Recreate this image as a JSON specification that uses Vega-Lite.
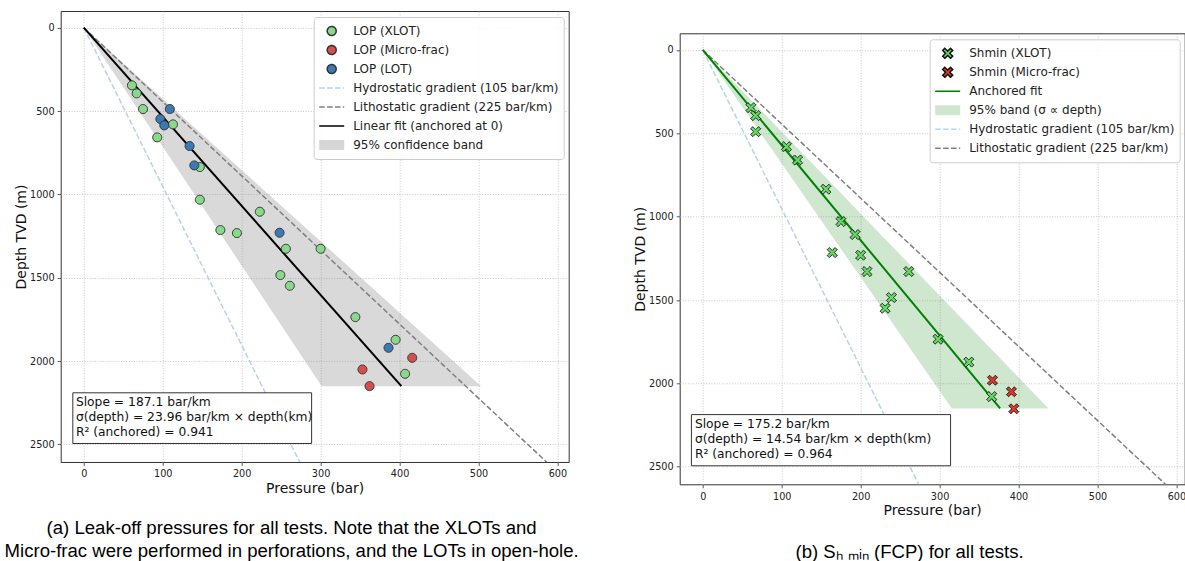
{
  "$schema": "https://vega.github.io/schema/vega-lite/v6.json",
  "background": "white",
  "padding": {"left": 3.7, "top": 10, "right": 0, "bottom": 0},
  "spacing": 53,
  "datasets": {
    "lop": [
      {"p": 61, "d": 346, "series": "LOP (XLOT)"},
      {"p": 67, "d": 394, "series": "LOP (XLOT)"},
      {"p": 75, "d": 488, "series": "LOP (XLOT)"},
      {"p": 113, "d": 580, "series": "LOP (XLOT)"},
      {"p": 93, "d": 658, "series": "LOP (XLOT)"},
      {"p": 147, "d": 836, "series": "LOP (XLOT)"},
      {"p": 147, "d": 1032, "series": "LOP (XLOT)"},
      {"p": 223, "d": 1104, "series": "LOP (XLOT)"},
      {"p": 173, "d": 1214, "series": "LOP (XLOT)"},
      {"p": 194, "d": 1232, "series": "LOP (XLOT)"},
      {"p": 256, "d": 1326, "series": "LOP (XLOT)"},
      {"p": 300, "d": 1326, "series": "LOP (XLOT)"},
      {"p": 249, "d": 1484, "series": "LOP (XLOT)"},
      {"p": 261, "d": 1548, "series": "LOP (XLOT)"},
      {"p": 344, "d": 1736, "series": "LOP (XLOT)"},
      {"p": 395, "d": 1872, "series": "LOP (XLOT)"},
      {"p": 407, "d": 2076, "series": "LOP (XLOT)"},
      {"p": 416, "d": 1980, "series": "LOP (Micro-frac)"},
      {"p": 353, "d": 2050, "series": "LOP (Micro-frac)"},
      {"p": 362, "d": 2150, "series": "LOP (Micro-frac)"},
      {"p": 109, "d": 488, "series": "LOP (LOT)"},
      {"p": 97, "d": 548, "series": "LOP (LOT)"},
      {"p": 102, "d": 586, "series": "LOP (LOT)"},
      {"p": 134, "d": 710, "series": "LOP (LOT)"},
      {"p": 140, "d": 826, "series": "LOP (LOT)"},
      {"p": 248, "d": 1230, "series": "LOP (LOT)"},
      {"p": 386, "d": 1920, "series": "LOP (LOT)"}
    ],
    "shmin": [
      {"p": 61, "d": 346, "series": "Shmin (XLOT)"},
      {"p": 67, "d": 394, "series": "Shmin (XLOT)"},
      {"p": 67, "d": 490, "series": "Shmin (XLOT)"},
      {"p": 106, "d": 580, "series": "Shmin (XLOT)"},
      {"p": 120, "d": 660, "series": "Shmin (XLOT)"},
      {"p": 156, "d": 835, "series": "Shmin (XLOT)"},
      {"p": 175, "d": 1029, "series": "Shmin (XLOT)"},
      {"p": 193, "d": 1107, "series": "Shmin (XLOT)"},
      {"p": 164, "d": 1215, "series": "Shmin (XLOT)"},
      {"p": 200, "d": 1231, "series": "Shmin (XLOT)"},
      {"p": 208, "d": 1329, "series": "Shmin (XLOT)"},
      {"p": 261, "d": 1329, "series": "Shmin (XLOT)"},
      {"p": 239, "d": 1485, "series": "Shmin (XLOT)"},
      {"p": 231, "d": 1549, "series": "Shmin (XLOT)"},
      {"p": 298, "d": 1735, "series": "Shmin (XLOT)"},
      {"p": 337, "d": 1872, "series": "Shmin (XLOT)"},
      {"p": 366, "d": 2079, "series": "Shmin (XLOT)"},
      {"p": 367, "d": 1981, "series": "Shmin (Micro-frac)"},
      {"p": 391, "d": 2050, "series": "Shmin (Micro-frac)"},
      {"p": 394, "d": 2152, "series": "Shmin (Micro-frac)"}
    ],
    "bandA": [{"d": 0, "lo": 0, "hi": 0}, {"d": 2150, "lo": 301.3, "hi": 503.3}],
    "fitA": [{"d": 0, "p": 0}, {"d": 2150, "p": 402.3}],
    "bandB": [{"d": 0, "lo": 0, "hi": 0}, {"d": 2150, "lo": 315.4, "hi": 438.0}],
    "fitB": [{"d": 0, "p": 0}, {"d": 2150, "p": 376.7}],
    "hydro": [{"d": 0, "p": 0}, {"d": 2700, "p": 283.5}],
    "litho": [{"d": 0, "p": 0}, {"d": 2700, "p": 607.5}],
    "noteA": [{"note": ["Slope = 187.1 bar/km", "σ(depth) = 23.96 bar/km × depth(km)", "R² (anchored) = 0.941"]}],
    "noteB": [{"note": ["Slope = 175.2 bar/km", "σ(depth) = 14.54 bar/km × depth(km)", "R² (anchored) = 0.964"]}]
  },
  "resolve": {
    "scale": {"x": "independent", "y": "independent", "fill": "independent", "stroke": "independent", "shape": "independent", "strokeDash": "independent"},
    "legend": {"fill": "independent", "stroke": "independent", "shape": "independent", "strokeDash": "independent"}
  },
  "hconcat": [
    {
      "width": 508,
      "height": 451,
      "title": {
        "text": ["(a) Leak-off pressures for all tests. Note that the XLOTs and", "Micro-frac were performed in perforations, and the LOTs in open-hole."],
        "orient": "bottom", "frame": "bounds", "anchor": "middle", "offset": 23
      },
      "layer": [
        {
          "data": {"name": "bandA"},
          "mark": {"type": "area", "orient": "horizontal", "color": "gray", "opacity": 0.3},
          "encoding": {
            "y": {"field": "d", "type": "quantitative", "title": "Depth TVD (m)",
                  "scale": {"domain": [-100, 2605], "reverse": true, "nice": false, "zero": false},
                  "axis": {"values": [0, 500, 1000, 1500, 2000, 2500], "format": "d"}},
            "x": {"field": "lo", "type": "quantitative", "title": "Pressure (bar)",
                  "scale": {"domain": [-29.25, 614.25], "nice": false, "zero": false},
                  "axis": {"values": [0, 100, 200, 300, 400, 500, 600], "format": "d"}},
            "x2": {"field": "hi"}
          }
        },
        {
          "data": {"name": "hydro"},
          "mark": {"type": "line", "color": "#add8e6", "strokeWidth": 1.5, "strokeDash": [5.5, 2.4], "clip": true},
          "encoding": {"y": {"field": "d", "type": "quantitative", "title": "Depth TVD (m)"}, "x": {"field": "p", "type": "quantitative", "title": "Pressure (bar)"}}
        },
        {
          "data": {"name": "litho"},
          "mark": {"type": "line", "color": "#808080", "strokeWidth": 1.5, "strokeDash": [5.5, 2.4], "clip": true},
          "encoding": {"y": {"field": "d", "type": "quantitative", "title": "Depth TVD (m)"}, "x": {"field": "p", "type": "quantitative", "title": "Pressure (bar)"}}
        },
        {
          "data": {"name": "fitA"},
          "mark": {"type": "line", "color": "#000000", "strokeWidth": 2},
          "encoding": {"y": {"field": "d", "type": "quantitative", "title": "Depth TVD (m)"}, "x": {"field": "p", "type": "quantitative", "title": "Pressure (bar)"}}
        },
        {
          "data": {"name": "lop"},
          "mark": {"type": "point", "filled": true, "size": 625, "strokeWidth": 1, "opacity": 1},
          "encoding": {
            "y": {"field": "d", "type": "quantitative", "title": "Depth TVD (m)"},
            "x": {"field": "p", "type": "quantitative", "title": "Pressure (bar)"},
            "fill": {
              "field": "series", "type": "nominal",
              "scale": {"domain": ["LOP (XLOT)", "LOP (Micro-frac)", "LOP (LOT)", "Hydrostatic gradient (105 bar/km)", "Lithostatic gradient (225 bar/km)", "Linear fit (anchored at 0)", "95% confidence band"],
                        "range": ["#8ad88a", "#d45050", "#3a7bb6", "transparent", "transparent", "transparent", "#d6d6d6"]},
              "legend": {"title": null, "orient": "top-right"}
            },
            "stroke": {
              "field": "series", "type": "nominal",
              "scale": {"domain": ["LOP (XLOT)", "LOP (Micro-frac)", "LOP (LOT)", "Hydrostatic gradient (105 bar/km)", "Lithostatic gradient (225 bar/km)", "Linear fit (anchored at 0)", "95% confidence band"],
                        "range": ["#333333", "#333333", "#333333", "#add8e6", "#808080", "#000000", "transparent"]},
              "legend": {"title": null, "orient": "top-right"}
            },
            "shape": {
              "field": "series", "type": "nominal",
              "scale": {"domain": ["LOP (XLOT)", "LOP (Micro-frac)", "LOP (LOT)", "Hydrostatic gradient (105 bar/km)", "Lithostatic gradient (225 bar/km)", "Linear fit (anchored at 0)", "95% confidence band"],
                        "range": ["M0.36,0A0.36,0.36,0,1,1,-0.36,0A0.36,0.36,0,1,1,0.36,0Z", "M0.36,0A0.36,0.36,0,1,1,-0.36,0A0.36,0.36,0,1,1,0.36,0Z", "M0.36,0A0.36,0.36,0,1,1,-0.36,0A0.36,0.36,0,1,1,0.36,0Z", "M-1,0H1", "M-1,0H1", "M-1,0H1", "M-1,-0.4H1V0.4H-1Z"]},
              "legend": {"title": null, "orient": "top-right"}
            },
            "strokeDash": {
              "field": "series", "type": "nominal",
              "scale": {"domain": ["LOP (XLOT)", "LOP (Micro-frac)", "LOP (LOT)", "Hydrostatic gradient (105 bar/km)", "Lithostatic gradient (225 bar/km)", "Linear fit (anchored at 0)", "95% confidence band"],
                        "range": [[1, 0], [1, 0], [1, 0], [5.5, 2.4], [5.5, 2.4], [1, 0], [1, 0]]},
              "legend": {"title": null, "orient": "top-right"}
            }
          }
        },
        {
          "data": {"name": "noteA"},
          "mark": {"type": "rect", "fill": "white", "stroke": "#333333", "strokeWidth": 1},
          "encoding": {
            "x": {"datum": -13.9, "type": "quantitative", "title": "Pressure (bar)"},
            "x2": {"datum": 288.6},
            "y": {"datum": 2190, "type": "quantitative", "title": "Depth TVD (m)"},
            "y2": {"datum": 2494}
          }
        },
        {
          "data": {"name": "noteA"},
          "mark": {"type": "text", "align": "left", "baseline": "middle", "font": "DejaVu Sans", "fontSize": 12.3, "lineHeight": 15.2, "color": "#111111"},
          "encoding": {
            "x": {"datum": -10, "type": "quantitative", "title": "Pressure (bar)"},
            "y": {"datum": 2244, "type": "quantitative", "title": "Depth TVD (m)"},
            "text": {"field": "note"}
          }
        }
      ]
    },
    {
      "title": {"text": "(b) Sₕ ₘᵢₙ (FCP) for all tests.", "orient": "bottom", "frame": "bounds", "anchor": "middle", "offset": 25},
      "spacing": 10.3,
      "resolve": {
        "scale": {"x": "independent", "y": "independent", "fill": "independent", "stroke": "independent", "shape": "independent", "strokeDash": "independent"},
        "legend": {"fill": "independent", "stroke": "independent", "shape": "independent", "strokeDash": "independent"}
      },
      "vconcat": [
        {
          "width": 505,
          "height": 10.5,
          "data": {"values": [{}]},
          "mark": {"type": "point", "opacity": 0},
          "view": {"stroke": null}
        },
        {
          "width": 505,
          "height": 451,
          "layer": [
            {
              "data": {"name": "bandB"},
              "mark": {"type": "area", "orient": "horizontal", "color": "green", "opacity": 0.19},
              "encoding": {
                "y": {"field": "d", "type": "quantitative", "title": "Depth TVD (m)",
                      "scale": {"domain": [-100, 2605], "reverse": true, "nice": false, "zero": false},
                      "axis": {"values": [0, 500, 1000, 1500, 2000, 2500], "format": "d"}},
                "x": {"field": "lo", "type": "quantitative", "title": "Pressure (bar)",
                      "scale": {"domain": [-29.25, 610.5], "nice": false, "zero": false},
                      "axis": {"values": [0, 100, 200, 300, 400, 500, 600], "format": "d"}},
                "x2": {"field": "hi"}
              }
            },
            {
              "data": {"name": "hydro"},
              "mark": {"type": "line", "color": "#add8e6", "strokeWidth": 1.5, "strokeDash": [5.5, 2.4], "clip": true},
              "encoding": {"y": {"field": "d", "type": "quantitative", "title": "Depth TVD (m)"}, "x": {"field": "p", "type": "quantitative", "title": "Pressure (bar)"}}
            },
            {
              "data": {"name": "litho"},
              "mark": {"type": "line", "color": "#808080", "strokeWidth": 1.5, "strokeDash": [5.5, 2.4], "clip": true},
              "encoding": {"y": {"field": "d", "type": "quantitative", "title": "Depth TVD (m)"}, "x": {"field": "p", "type": "quantitative", "title": "Pressure (bar)"}}
            },
            {
              "data": {"name": "fitB"},
              "mark": {"type": "line", "color": "#008000", "strokeWidth": 2},
              "encoding": {"y": {"field": "d", "type": "quantitative", "title": "Depth TVD (m)"}, "x": {"field": "p", "type": "quantitative", "title": "Pressure (bar)"}}
            },
            {
              "data": {"name": "shmin"},
              "mark": {"type": "point", "filled": true, "size": 625, "strokeWidth": 1, "opacity": 1},
              "encoding": {
                "y": {"field": "d", "type": "quantitative", "title": "Depth TVD (m)"},
                "x": {"field": "p", "type": "quantitative", "title": "Pressure (bar)"},
                "fill": {
                  "field": "series", "type": "nominal",
                  "scale": {"domain": ["Shmin (XLOT)", "Shmin (Micro-frac)", "Anchored fit", "95% band (σ ∝ depth)", "Hydrostatic gradient (105 bar/km)", "Lithostatic gradient (225 bar/km)"],
                            "range": ["#66d866", "#d93a2b", "transparent", "#cfe7cf", "transparent", "transparent"]},
                  "legend": {"title": null, "orient": "top-right"}
                },
                "stroke": {
                  "field": "series", "type": "nominal",
                  "scale": {"domain": ["Shmin (XLOT)", "Shmin (Micro-frac)", "Anchored fit", "95% band (σ ∝ depth)", "Hydrostatic gradient (105 bar/km)", "Lithostatic gradient (225 bar/km)"],
                            "range": ["#111111", "#111111", "#008000", "transparent", "#add8e6", "#808080"]},
                  "legend": {"title": null, "orient": "top-right"}
                },
                "shape": {
                  "field": "series", "type": "nominal",
                  "scale": {"domain": ["Shmin (XLOT)", "Shmin (Micro-frac)", "Anchored fit", "95% band (σ ∝ depth)", "Hydrostatic gradient (105 bar/km)", "Lithostatic gradient (225 bar/km)"],
                            "range": ["M0.23,-0.4L0.4,-0.23L0.17,0L0.4,0.23L0.23,0.4L0,0.17L-0.23,0.4L-0.4,0.23L-0.17,0L-0.4,-0.23L-0.23,-0.4L0,-0.17Z", "M0.23,-0.4L0.4,-0.23L0.17,0L0.4,0.23L0.23,0.4L0,0.17L-0.23,0.4L-0.4,0.23L-0.17,0L-0.4,-0.23L-0.23,-0.4L0,-0.17Z", "M-1,0H1", "M-1,-0.4H1V0.4H-1Z", "M-1,0H1", "M-1,0H1"]},
                  "legend": {"title": null, "orient": "top-right"}
                },
                "strokeDash": {
                  "field": "series", "type": "nominal",
                  "scale": {"domain": ["Shmin (XLOT)", "Shmin (Micro-frac)", "Anchored fit", "95% band (σ ∝ depth)", "Hydrostatic gradient (105 bar/km)", "Lithostatic gradient (225 bar/km)"],
                            "range": [[1, 0], [1, 0], [1, 0], [1, 0], [5.5, 2.4], [5.5, 2.4]]},
                  "legend": {"title": null, "orient": "top-right"}
                }
              }
            },
            {
              "data": {"name": "noteB"},
              "mark": {"type": "rect", "fill": "white", "stroke": "#333333", "strokeWidth": 1},
              "encoding": {
                "x": {"datum": -14.4, "type": "quantitative", "title": "Pressure (bar)"},
                "x2": {"datum": 313.9},
                "y": {"datum": 2187, "type": "quantitative", "title": "Depth TVD (m)"},
                "y2": {"datum": 2494}
              }
            },
            {
              "data": {"name": "noteB"},
              "mark": {"type": "text", "align": "left", "baseline": "middle", "font": "DejaVu Sans", "fontSize": 12.3, "lineHeight": 15.2, "color": "#111111"},
              "encoding": {
                "x": {"datum": -10, "type": "quantitative", "title": "Pressure (bar)"},
                "y": {"datum": 2242, "type": "quantitative", "title": "Depth TVD (m)"},
                "text": {"field": "note"}
              }
            }
          ]
        }
      ]
    }
  ],
  "config": {
    "font": "DejaVu Sans",
    "view": {"stroke": "#333333", "strokeWidth": 1},
    "axis": {
      "domain": false, "grid": true, "gridColor": "#bdbdbd", "gridDash": [1, 1.6], "gridWidth": 0.8,
      "tickColor": "#333333", "tickSize": 3.5, "tickWidth": 0.8,
      "labelFont": "DejaVu Sans", "labelFontSize": 9.7, "labelColor": "#222222", "labelPadding": 3.5,
      "labelFlush": false, "labelOverlap": false,
      "titleFont": "DejaVu Sans", "titleFontSize": 14, "titleFontWeight": "normal", "titleColor": "#111111", "titlePadding": 3
    },
    "axisY": {"titlePadding": 1, "labelPadding": 3},
    "legend": {
      "offset": 5.5, "padding": 4.5, "fillColor": "rgba(255,255,255,0.85)", "strokeColor": "#cccccc", "cornerRadius": 3,
      "labelFont": "DejaVu Sans", "labelFontSize": 12, "labelColor": "#222222", "labelLimit": 400,
      "symbolSize": 625, "symbolStrokeWidth": 1.5, "clipHeight": 19, "rowPadding": 0, "labelOffset": 8
    },
    "title": {"font": "Liberation Sans", "fontSize": 18.6, "fontWeight": "normal", "color": "#000000", "lineHeight": 23}
  }
}
